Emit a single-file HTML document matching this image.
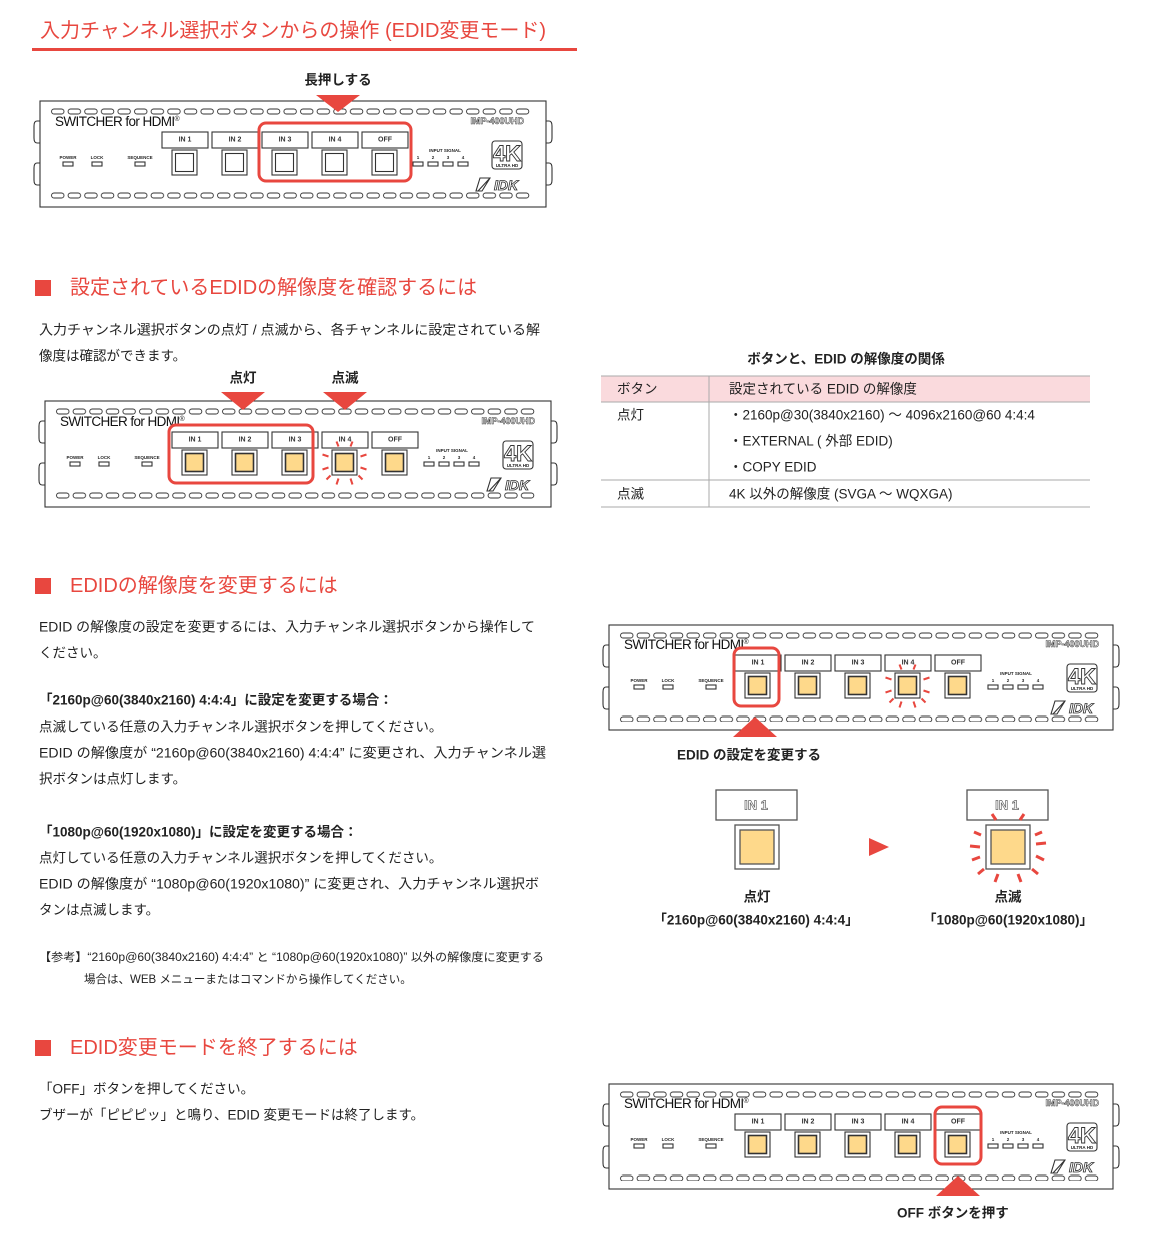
<!DOCTYPE html>
<html><head><meta charset="utf-8"><style>
html,body{margin:0;padding:0;background:#fff;}
svg{display:block;font-family:"Liberation Sans","Noto Sans CJK JP",sans-serif;}
.ln{fill:none;stroke:#333;stroke-width:1.1}
.t{fill:#222;font-size:13.5px;dominant-baseline:central}
.b{font-weight:bold}
.h{fill:#e8473f;font-size:20px;dominant-baseline:central}
.dl{fill:#fff;stroke:#333;stroke-width:1.1}
.lb{font-size:7px;font-weight:bold;fill:#333;text-anchor:middle;dominant-baseline:central}
.sm{font-size:4.5px;font-weight:bold;fill:#222;text-anchor:middle}
.rb{fill:none;stroke:#e8473f;stroke-width:3}
.ray{stroke:#e8473f;stroke-width:2}
</style></head><body>
<svg width="1150" height="1249" viewBox="0 0 1150 1249" xmlns="http://www.w3.org/2000/svg">
<defs>
<pattern id="ov" x="10" y="0" width="16.6" height="7" patternUnits="userSpaceOnUse">
<rect x="1.5" y="1" width="12.5" height="5" rx="2.5" fill="none" stroke="#333" stroke-width="0.9"/>
</pattern>
</defs>

<!-- Title -->
<text x="40" y="31" class="h">入力チャンネル選択ボタンからの操作 (EDID変更モード)</text>
<rect x="32" y="48" width="545" height="3" fill="#e8473f"/>

<text x="338" y="80" class="t b" text-anchor="middle" font-size="14">長押しする</text>

<!-- DEVICE 1 -->
<g transform="translate(40,101)">
<path class="ln" d="M0,20 h-3 q-3,0 -3,5 v12 q0,5 3,5 h3 M0,62 h-3 q-3,0 -3,5 v12 q0,5 3,5 h3 M506,20 h3 q3,0 3,5 v12 q0,5 -3,5 h-3 M506,62 h3 q3,0 3,5 v12 q0,5 -3,5 h-3"/>
<rect width="506" height="106" class="dl"/>
<rect x="10" y="7" width="481" height="7" fill="url(#ov)"/>
<rect x="10" y="91" width="481" height="7" fill="url(#ov)"/>
<text x="15" y="25" font-size="13.5" fill="#111" letter-spacing="-0.6">SWITCHER for HDMI<tspan font-size="7" dy="-5">®</tspan></text>
<text x="484" y="23" text-anchor="end" font-size="9" font-weight="bold" fill="#fff" stroke="#333" stroke-width="0.5">IMP-400UHD</text>
<text x="28" y="58" class="sm">POWER</text><rect x="23" y="61" width="10" height="4" class="dl"/>
<text x="57" y="58" class="sm">LOCK</text><rect x="52" y="61" width="10" height="4" class="dl"/>
<text x="100" y="58" class="sm">SEQUENCE</text><rect x="95" y="61" width="10" height="4" class="dl"/>
<text x="405" y="51" class="sm">INPUT SIGNAL</text>
<text x="378" y="58" class="sm">1</text><text x="393" y="58" class="sm">2</text><text x="408" y="58" class="sm">3</text><text x="423" y="58" class="sm">4</text>
<rect x="373" y="61" width="10" height="4" class="dl"/><rect x="388" y="61" width="10" height="4" class="dl"/><rect x="403" y="61" width="10" height="4" class="dl"/><rect x="418" y="61" width="10" height="4" class="dl"/>
<rect x="452" y="40" width="30" height="28" rx="3" class="dl"/>
<text x="467" y="60" text-anchor="middle" font-size="22" font-weight="bold" fill="#fff" stroke="#333" stroke-width="0.9">4K</text>
<text x="467" y="66" class="sm" font-size="4">ULTRA HD</text>
<path d="M440,77 h10 l-8,13 h-6 z M438,90 l12,-13" class="ln"/>
<text x="466" y="89" text-anchor="middle" font-size="14" font-weight="bold" font-style="italic" fill="#fff" stroke="#333" stroke-width="0.8">IDK</text>
<rect x="122" y="31" width="46" height="16" class="dl"/><text x="145" y="39" class="lb">IN 1</text>
<rect x="172" y="31" width="46" height="16" class="dl"/><text x="195" y="39" class="lb">IN 2</text>
<rect x="222" y="31" width="46" height="16" class="dl"/><text x="245" y="39" class="lb">IN 3</text>
<rect x="272" y="31" width="46" height="16" class="dl"/><text x="295" y="39" class="lb">IN 4</text>
<rect x="322" y="31" width="46" height="16" class="dl" stroke-width="0.6"/><text x="345" y="39" class="lb">OFF</text>
<rect x="132" y="49" width="25" height="25" class="dl"/><rect x="135.5" y="52.5" width="18" height="18" class="ln" stroke-width="1.6"/>
<rect x="182" y="49" width="25" height="25" class="dl"/><rect x="185.5" y="52.5" width="18" height="18" class="ln" stroke-width="1.6"/>
<rect x="232" y="49" width="25" height="25" class="dl"/><rect x="235.5" y="52.5" width="18" height="18" class="ln" stroke-width="1.6"/>
<rect x="282" y="49" width="25" height="25" class="dl"/><rect x="285.5" y="52.5" width="18" height="18" class="ln" stroke-width="1.6"/>
<rect x="332" y="49" width="25" height="25" class="dl"/><rect x="335.5" y="52.5" width="18" height="18" class="ln" stroke-width="1.6"/>
</g>
<rect x="259" y="123" width="152" height="58" rx="7" class="rb"/>
<polygon points="316,95 360,95 338,112" fill="#e8473f"/>

<!-- Section 1 -->
<rect x="35" y="280" width="16" height="16" fill="#e8473f"/>
<text x="70" y="288" class="h">設定されているEDIDの解像度を確認するには</text>
<text x="39" y="330" class="t" textLength="501" lengthAdjust="spacingAndGlyphs">入力チャンネル選択ボタンの点灯 / 点滅から、各チャンネルに設定されている解</text>
<text x="39" y="356" class="t">像度は確認ができます。</text>
<text x="243" y="378" class="t b" text-anchor="middle" font-size="14">点灯</text>
<text x="345" y="378" class="t b" text-anchor="middle" font-size="14">点滅</text>

<!-- DEVICE 2 -->
<g transform="translate(45,401)">
<path class="ln" d="M0,20 h-3 q-3,0 -3,5 v12 q0,5 3,5 h3 M0,62 h-3 q-3,0 -3,5 v12 q0,5 3,5 h3 M506,20 h3 q3,0 3,5 v12 q0,5 -3,5 h-3 M506,62 h3 q3,0 3,5 v12 q0,5 -3,5 h-3"/>
<rect width="506" height="106" class="dl"/>
<rect x="10" y="7" width="481" height="7" fill="url(#ov)"/>
<rect x="10" y="91" width="481" height="7" fill="url(#ov)"/>
<text x="15" y="25" font-size="13.5" fill="#111" letter-spacing="-0.6">SWITCHER for HDMI<tspan font-size="7" dy="-5">®</tspan></text>
<text x="490" y="23" text-anchor="end" font-size="9" font-weight="bold" fill="#fff" stroke="#333" stroke-width="0.5">IMP-400UHD</text>
<text x="30" y="58" class="sm">POWER</text><rect x="25" y="61" width="10" height="4" class="dl"/>
<text x="59" y="58" class="sm">LOCK</text><rect x="54" y="61" width="10" height="4" class="dl"/>
<text x="102" y="58" class="sm">SEQUENCE</text><rect x="97" y="61" width="10" height="4" class="dl"/>
<text x="407" y="51" class="sm">INPUT SIGNAL</text>
<text x="384" y="58" class="sm">1</text><text x="399" y="58" class="sm">2</text><text x="414" y="58" class="sm">3</text><text x="429" y="58" class="sm">4</text>
<rect x="379" y="61" width="10" height="4" class="dl"/><rect x="394" y="61" width="10" height="4" class="dl"/><rect x="409" y="61" width="10" height="4" class="dl"/><rect x="424" y="61" width="10" height="4" class="dl"/>
<rect x="458" y="40" width="30" height="28" rx="3" class="dl"/>
<text x="473" y="60" text-anchor="middle" font-size="22" font-weight="bold" fill="#fff" stroke="#333" stroke-width="0.9">4K</text>
<text x="473" y="66" class="sm" font-size="4">ULTRA HD</text>
<path d="M446,77 h10 l-8,13 h-6 z M444,90 l12,-13" class="ln"/>
<text x="472" y="89" text-anchor="middle" font-size="14" font-weight="bold" font-style="italic" fill="#fff" stroke="#333" stroke-width="0.8">IDK</text>
<rect x="127" y="31" width="46" height="16" class="dl"/><text x="150" y="39" class="lb">IN 1</text>
<rect x="177" y="31" width="46" height="16" class="dl"/><text x="200" y="39" class="lb">IN 2</text>
<rect x="227" y="31" width="46" height="16" class="dl"/><text x="250" y="39" class="lb">IN 3</text>
<rect x="277" y="31" width="46" height="16" class="dl"/><text x="300" y="39" class="lb">IN 4</text>
<rect x="327" y="31" width="46" height="16" class="dl" stroke-width="0.6"/><text x="350" y="39" class="lb">OFF</text>
<rect x="137" y="49" width="25" height="25" class="dl"/><rect x="140.5" y="52.5" width="18" height="18" fill="#fed98b" stroke="#333" stroke-width="1.6"/>
<rect x="187" y="49" width="25" height="25" class="dl"/><rect x="190.5" y="52.5" width="18" height="18" fill="#fed98b" stroke="#333" stroke-width="1.6"/>
<rect x="237" y="49" width="25" height="25" class="dl"/><rect x="240.5" y="52.5" width="18" height="18" fill="#fed98b" stroke="#333" stroke-width="1.6"/>
<rect x="287" y="49" width="25" height="25" class="dl"/><rect x="290.5" y="52.5" width="18" height="18" fill="#fed98b" stroke="#333" stroke-width="1.6"/>
<rect x="337" y="49" width="25" height="25" class="dl"/><rect x="340.5" y="52.5" width="18" height="18" fill="#fed98b" stroke="#333" stroke-width="1.6"/>
<g transform="translate(299.5,61.5)" class="ray">
<line x1="-6" y1="-16" x2="-8" y2="-21"/><line x1="6" y1="-16" x2="8" y2="-21"/>
<line x1="-16" y1="-6" x2="-22" y2="-8"/><line x1="16" y1="-6" x2="22" y2="-8"/>
<line x1="-16" y1="5" x2="-22" y2="7"/><line x1="16" y1="5" x2="22" y2="7"/>
<line x1="-6" y1="16" x2="-8" y2="22"/><line x1="6" y1="16" x2="8" y2="22"/>
<line x1="-14" y1="13" x2="-18" y2="17"/><line x1="14" y1="13" x2="18" y2="17"/>
</g>
</g>
<rect x="169" y="425" width="144" height="58" rx="7" class="rb"/>
<polygon points="221,392 265,392 243,410" fill="#e8473f"/>
<polygon points="323,392 367,392 345,410" fill="#e8473f"/>

<!-- Table -->
<text x="846" y="359" class="t b" text-anchor="middle" font-size="14">ボタンと、EDID の解像度の関係</text>
<rect x="601" y="376" width="489" height="26" fill="#fadadd"/>
<line x1="601" y1="376" x2="1090" y2="376" stroke="#aaa"/>
<line x1="601" y1="402" x2="1090" y2="402" stroke="#aaa"/>
<line x1="601" y1="480" x2="1090" y2="480" stroke="#aaa"/>
<line x1="601" y1="507" x2="1090" y2="507" stroke="#aaa"/>
<line x1="709" y1="376" x2="709" y2="507" stroke="#aaa"/>
<text x="617" y="389" class="t">ボタン</text>
<text x="729" y="389" class="t">設定されている EDID の解像度</text>
<text x="617" y="415" class="t">点灯</text>
<text x="729" y="415" class="t">・2160p@30(3840x2160) 〜 4096x2160@60 4:4:4</text>
<text x="729" y="441" class="t">・EXTERNAL ( 外部 EDID)</text>
<text x="729" y="467" class="t">・COPY EDID</text>
<text x="617" y="494" class="t">点滅</text>
<text x="729" y="494" class="t">4K 以外の解像度 (SVGA 〜 WQXGA)</text>

<!-- Section 2 -->
<rect x="35" y="578" width="16" height="16" fill="#e8473f"/>
<text x="70" y="586" class="h">EDIDの解像度を変更するには</text>
<text x="39" y="627" class="t" textLength="496" lengthAdjust="spacingAndGlyphs">EDID の解像度の設定を変更するには、入力チャンネル選択ボタンから操作して</text>
<text x="39" y="653" class="t">ください。</text>
<text x="39" y="700" class="t b">「2160p@60(3840x2160) 4:4:4」に設定を変更する場合：</text>
<text x="39" y="727" class="t">点滅している任意の入力チャンネル選択ボタンを押してください。</text>
<text x="39" y="753" class="t" textLength="507" lengthAdjust="spacingAndGlyphs">EDID の解像度が “2160p@60(3840x2160) 4:4:4” に変更され、入力チャンネル選</text>
<text x="39" y="779" class="t">択ボタンは点灯します。</text>
<text x="39" y="832" class="t b">「1080p@60(1920x1080)」に設定を変更する場合：</text>
<text x="39" y="858" class="t">点灯している任意の入力チャンネル選択ボタンを押してください。</text>
<text x="39" y="884" class="t" textLength="500" lengthAdjust="spacingAndGlyphs">EDID の解像度が “1080p@60(1920x1080)” に変更され、入力チャンネル選択ボ</text>
<text x="39" y="910" class="t">タンは点滅します。</text>
<text x="39" y="958" class="t" style="font-size:11.5px" textLength="505" lengthAdjust="spacingAndGlyphs">【参考】“2160p@60(3840x2160) 4:4:4” と “1080p@60(1920x1080)” 以外の解像度に変更する</text>
<text x="84" y="980" class="t" style="font-size:11.5px">場合は、WEB メニューまたはコマンドから操作してください。</text>

<!-- DEVICE 3 -->
<g transform="translate(609,625)">
<path class="ln" d="M0,20 h-3 q-3,0 -3,5 v12 q0,5 3,5 h3 M0,62 h-3 q-3,0 -3,5 v12 q0,5 3,5 h3 M504,20 h3 q3,0 3,5 v12 q0,5 -3,5 h-3 M504,62 h3 q3,0 3,5 v12 q0,5 -3,5 h-3"/>
<rect width="504" height="105" class="dl"/>
<rect x="10" y="7" width="481" height="7" fill="url(#ov)"/>
<rect x="10" y="90" width="481" height="7" fill="url(#ov)"/>
<text x="15" y="24" font-size="13.5" fill="#111" letter-spacing="-0.6">SWITCHER for HDMI<tspan font-size="7" dy="-5">®</tspan></text>
<text x="490" y="22" text-anchor="end" font-size="9" font-weight="bold" fill="#fff" stroke="#333" stroke-width="0.5">IMP-400UHD</text>
<text x="30" y="57" class="sm">POWER</text><rect x="25" y="60" width="10" height="4" class="dl"/>
<text x="59" y="57" class="sm">LOCK</text><rect x="54" y="60" width="10" height="4" class="dl"/>
<text x="102" y="57" class="sm">SEQUENCE</text><rect x="97" y="60" width="10" height="4" class="dl"/>
<text x="407" y="50" class="sm">INPUT SIGNAL</text>
<text x="384" y="57" class="sm">1</text><text x="399" y="57" class="sm">2</text><text x="414" y="57" class="sm">3</text><text x="429" y="57" class="sm">4</text>
<rect x="379" y="60" width="10" height="4" class="dl"/><rect x="394" y="60" width="10" height="4" class="dl"/><rect x="409" y="60" width="10" height="4" class="dl"/><rect x="424" y="60" width="10" height="4" class="dl"/>
<rect x="458" y="39" width="30" height="28" rx="3" class="dl"/>
<text x="473" y="59" text-anchor="middle" font-size="22" font-weight="bold" fill="#fff" stroke="#333" stroke-width="0.9">4K</text>
<text x="473" y="65" class="sm" font-size="4">ULTRA HD</text>
<path d="M446,76 h10 l-8,13 h-6 z M444,89 l12,-13" class="ln"/>
<text x="472" y="88" text-anchor="middle" font-size="14" font-weight="bold" font-style="italic" fill="#fff" stroke="#333" stroke-width="0.8">IDK</text>
<rect x="126" y="30" width="46" height="16" class="dl"/><text x="149" y="38" class="lb">IN 1</text>
<rect x="176" y="30" width="46" height="16" class="dl"/><text x="199" y="38" class="lb">IN 2</text>
<rect x="226" y="30" width="46" height="16" class="dl"/><text x="249" y="38" class="lb">IN 3</text>
<rect x="276" y="30" width="46" height="16" class="dl"/><text x="299" y="38" class="lb">IN 4</text>
<rect x="326" y="30" width="46" height="16" class="dl" stroke-width="0.6"/><text x="349" y="38" class="lb">OFF</text>
<rect x="136" y="48" width="25" height="25" class="dl"/><rect x="139.5" y="51.5" width="18" height="18" fill="#fed98b" stroke="#333" stroke-width="1.6"/>
<rect x="186" y="48" width="25" height="25" class="dl"/><rect x="189.5" y="51.5" width="18" height="18" fill="#fed98b" stroke="#333" stroke-width="1.6"/>
<rect x="236" y="48" width="25" height="25" class="dl"/><rect x="239.5" y="51.5" width="18" height="18" fill="#fed98b" stroke="#333" stroke-width="1.6"/>
<rect x="286" y="48" width="25" height="25" class="dl"/><rect x="289.5" y="51.5" width="18" height="18" fill="#fed98b" stroke="#333" stroke-width="1.6"/>
<rect x="336" y="48" width="25" height="25" class="dl"/><rect x="339.5" y="51.5" width="18" height="18" fill="#fed98b" stroke="#333" stroke-width="1.6"/>
<g transform="translate(298.5,60.5)" class="ray">
<line x1="-6" y1="-16" x2="-8" y2="-21"/><line x1="6" y1="-16" x2="8" y2="-21"/>
<line x1="-16" y1="-6" x2="-22" y2="-8"/><line x1="16" y1="-6" x2="22" y2="-8"/>
<line x1="-16" y1="5" x2="-22" y2="7"/><line x1="16" y1="5" x2="22" y2="7"/>
<line x1="-6" y1="16" x2="-8" y2="22"/><line x1="6" y1="16" x2="8" y2="22"/>
<line x1="-14" y1="13" x2="-18" y2="17"/><line x1="14" y1="13" x2="18" y2="17"/>
</g>
</g>
<rect x="734" y="648" width="45" height="58" rx="7" class="rb"/>
<polygon points="733,737 777,737 755,717" fill="#e8473f"/>
<text x="677" y="755" class="t b" font-size="14">EDID の設定を変更する</text>

<!-- Big IN1 buttons -->
<rect x="716" y="790" width="81" height="30" fill="#fff" stroke="#555" stroke-width="1.3"/>
<text x="756" y="805" class="lb" style="font-size:13px;fill:#fff;stroke:#666;stroke-width:0.7">IN 1</text>
<rect x="735" y="825" width="44" height="44" fill="#fff" stroke="#555" stroke-width="1.3"/>
<rect x="740" y="830" width="34" height="34" fill="#fed98b" stroke="#555" stroke-width="1.3"/>
<polygon points="869,838 889,847 869,856" fill="#e8473f"/>
<rect x="967" y="790" width="81" height="30" fill="#fff" stroke="#555" stroke-width="1.3"/>
<text x="1007" y="805" class="lb" style="font-size:13px;fill:#fff;stroke:#666;stroke-width:0.7">IN 1</text>
<rect x="986" y="825" width="44" height="44" fill="#fff" stroke="#555" stroke-width="1.3"/>
<rect x="991" y="830" width="34" height="34" fill="#fed98b" stroke="#555" stroke-width="1.3"/>
<g transform="translate(1008,847)" stroke="#e8473f" stroke-width="3">
<line x1="-12" y1="-27" x2="-16" y2="-33"/><line x1="12" y1="-27" x2="16" y2="-33"/>
<line x1="-27" y1="-12" x2="-34" y2="-15"/><line x1="27" y1="-12" x2="34" y2="-15"/>
<line x1="-28" y1="0" x2="-38" y2="-1"/><line x1="28" y1="-3" x2="38" y2="-4"/>
<line x1="-28" y1="10" x2="-36" y2="13"/><line x1="28" y1="9" x2="36" y2="13"/>
<line x1="-24" y1="22" x2="-30" y2="27"/><line x1="24" y1="22" x2="30" y2="27"/>
<line x1="-10" y1="27" x2="-13" y2="35"/><line x1="10" y1="27" x2="13" y2="35"/>
</g>
<text x="757" y="897" class="t b" text-anchor="middle" font-size="14">点灯</text>
<text x="756" y="920" class="t b" text-anchor="middle" font-size="14">「2160p@60(3840x2160) 4:4:4」</text>
<text x="1008" y="897" class="t b" text-anchor="middle" font-size="14">点滅</text>
<text x="1008" y="920" class="t b" text-anchor="middle" font-size="14">「1080p@60(1920x1080)」</text>

<!-- Section 3 -->
<rect x="35" y="1040" width="16" height="16" fill="#e8473f"/>
<text x="70" y="1048" class="h">EDID変更モードを終了するには</text>
<text x="39" y="1089" class="t">「OFF」ボタンを押してください。</text>
<text x="39" y="1115" class="t">ブザーが「ピピピッ」と鳴り、EDID 変更モードは終了します。</text>

<!-- DEVICE 4 -->
<g transform="translate(609,1084)">
<path class="ln" d="M0,20 h-3 q-3,0 -3,5 v12 q0,5 3,5 h3 M0,62 h-3 q-3,0 -3,5 v12 q0,5 3,5 h3 M504,20 h3 q3,0 3,5 v12 q0,5 -3,5 h-3 M504,62 h3 q3,0 3,5 v12 q0,5 -3,5 h-3"/>
<rect width="504" height="105" class="dl"/>
<rect x="10" y="7" width="481" height="7" fill="url(#ov)"/>
<rect x="10" y="90" width="481" height="7" fill="url(#ov)"/>
<text x="15" y="24" font-size="13.5" fill="#111" letter-spacing="-0.6">SWITCHER for HDMI<tspan font-size="7" dy="-5">®</tspan></text>
<text x="490" y="22" text-anchor="end" font-size="9" font-weight="bold" fill="#fff" stroke="#333" stroke-width="0.5">IMP-400UHD</text>
<text x="30" y="57" class="sm">POWER</text><rect x="25" y="60" width="10" height="4" class="dl"/>
<text x="59" y="57" class="sm">LOCK</text><rect x="54" y="60" width="10" height="4" class="dl"/>
<text x="102" y="57" class="sm">SEQUENCE</text><rect x="97" y="60" width="10" height="4" class="dl"/>
<text x="407" y="50" class="sm">INPUT SIGNAL</text>
<text x="384" y="57" class="sm">1</text><text x="399" y="57" class="sm">2</text><text x="414" y="57" class="sm">3</text><text x="429" y="57" class="sm">4</text>
<rect x="379" y="60" width="10" height="4" class="dl"/><rect x="394" y="60" width="10" height="4" class="dl"/><rect x="409" y="60" width="10" height="4" class="dl"/><rect x="424" y="60" width="10" height="4" class="dl"/>
<rect x="458" y="39" width="30" height="28" rx="3" class="dl"/>
<text x="473" y="59" text-anchor="middle" font-size="22" font-weight="bold" fill="#fff" stroke="#333" stroke-width="0.9">4K</text>
<text x="473" y="65" class="sm" font-size="4">ULTRA HD</text>
<path d="M446,76 h10 l-8,13 h-6 z M444,89 l12,-13" class="ln"/>
<text x="472" y="88" text-anchor="middle" font-size="14" font-weight="bold" font-style="italic" fill="#fff" stroke="#333" stroke-width="0.8">IDK</text>
<rect x="126" y="30" width="46" height="16" class="dl"/><text x="149" y="38" class="lb">IN 1</text>
<rect x="176" y="30" width="46" height="16" class="dl"/><text x="199" y="38" class="lb">IN 2</text>
<rect x="226" y="30" width="46" height="16" class="dl"/><text x="249" y="38" class="lb">IN 3</text>
<rect x="276" y="30" width="46" height="16" class="dl"/><text x="299" y="38" class="lb">IN 4</text>
<rect x="326" y="30" width="46" height="16" class="dl" stroke-width="0.6"/><text x="349" y="38" class="lb">OFF</text>
<rect x="136" y="48" width="25" height="25" class="dl"/><rect x="139.5" y="51.5" width="18" height="18" fill="#fed98b" stroke="#333" stroke-width="1.6"/>
<rect x="186" y="48" width="25" height="25" class="dl"/><rect x="189.5" y="51.5" width="18" height="18" fill="#fed98b" stroke="#333" stroke-width="1.6"/>
<rect x="236" y="48" width="25" height="25" class="dl"/><rect x="239.5" y="51.5" width="18" height="18" fill="#fed98b" stroke="#333" stroke-width="1.6"/>
<rect x="286" y="48" width="25" height="25" class="dl"/><rect x="289.5" y="51.5" width="18" height="18" fill="#fed98b" stroke="#333" stroke-width="1.6"/>
<rect x="336" y="48" width="25" height="25" class="dl"/><rect x="339.5" y="51.5" width="18" height="18" fill="#fed98b" stroke="#333" stroke-width="1.6"/>
</g>
<rect x="935" y="1107" width="46" height="57" rx="7" class="rb"/>
<polygon points="936,1196 980,1196 958,1176" fill="#e8473f"/>
<text x="897" y="1213" class="t b" font-size="14">OFF ボタンを押す</text>
</svg>
</body></html>
